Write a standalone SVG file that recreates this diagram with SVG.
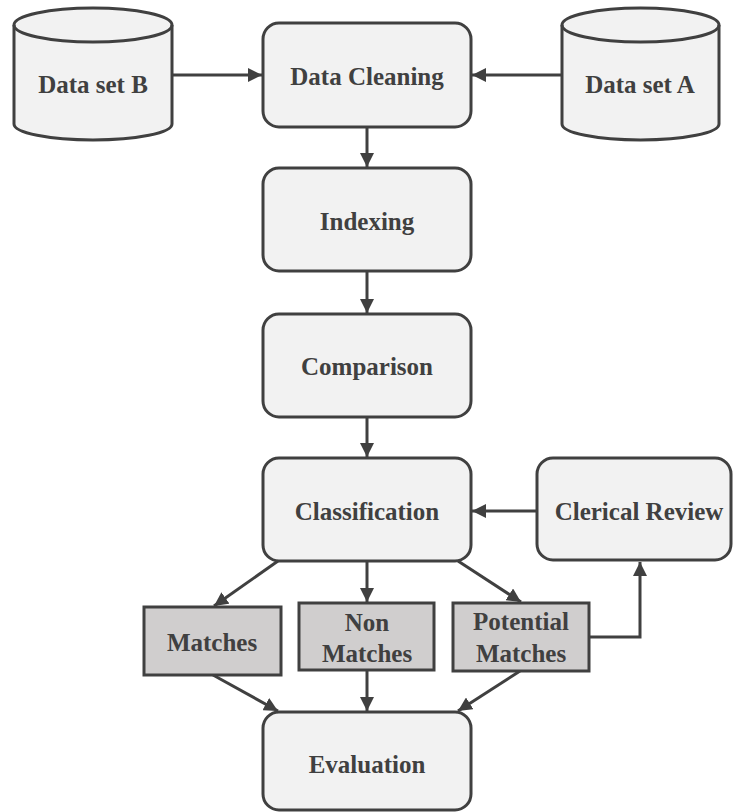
<svg xmlns="http://www.w3.org/2000/svg" width="733" height="812" viewBox="0 0 733 812">
<style>
.box{fill:#f2f2f2;stroke:#404040;stroke-width:3}
.rbox{fill:#d0cece;stroke:#404040;stroke-width:3}
.t{font-family:"Liberation Serif","Times New Roman",serif;font-weight:bold;font-size:25px;fill:#404040;text-anchor:middle}
.c{fill:none;stroke:#404040;stroke-width:3}
</style>
<defs>
<marker id="ah" viewBox="0 0 14 14" refX="14" refY="7" markerWidth="14" markerHeight="14" markerUnits="userSpaceOnUse" orient="auto">
<path d="M0,0 L14,7 L0,14 Z" fill="#404040"/>
</marker>
</defs>
<g id="connectors">
<path class="c" d="M172,75 L262,75" marker-end="url(#ah)"/>
<path class="c" d="M562,75 L472,75" marker-end="url(#ah)"/>
<path class="c" d="M367,127 L367,167" marker-end="url(#ah)"/>
<path class="c" d="M367,271 L367,313" marker-end="url(#ah)"/>
<path class="c" d="M367,417 L367,457" marker-end="url(#ah)"/>
<path class="c" d="M537,511 L472,511" marker-end="url(#ah)"/>
<path class="c" d="M278,561 L214,606" marker-end="url(#ah)"/>
<path class="c" d="M367,561 L367,602" marker-end="url(#ah)"/>
<path class="c" d="M458,561 L521,602" marker-end="url(#ah)"/>
<path class="c" d="M589,637 L640,637 L640,562" marker-end="url(#ah)"/>
<path class="c" d="M213,675 L278,711" marker-end="url(#ah)"/>
<path class="c" d="M367,670 L367,711" marker-end="url(#ah)"/>
<path class="c" d="M520,671 L458,711" marker-end="url(#ah)"/>
</g>
<g id="datasetB">
<path class="box" d="M14,25 A79,17 0 0 1 172,25 L172,124 A79,16 0 0 1 14,124 Z"/>
<path class="c" d="M14,25 A79,17 0 0 0 172,25"/>
<text class="t" x="93" y="93">Data set B</text>
</g>
<g id="datasetA">
<path class="box" d="M562,25 A78.5,17 0 0 1 719,25 L719,124 A78.5,16 0 0 1 562,124 Z"/>
<path class="c" d="M562,25 A78.5,17 0 0 0 719,25"/>
<text class="t" x="640" y="93">Data set A</text>
</g>
<g id="cleaning">
<rect class="box" x="263" y="23" width="208" height="104" rx="16"/>
<text class="t" x="367" y="85">Data Cleaning</text>
</g>
<g id="indexing">
<rect class="box" x="263" y="168" width="208" height="103" rx="16"/>
<text class="t" x="367" y="230">Indexing</text>
</g>
<g id="comparison">
<rect class="box" x="263" y="314" width="208" height="103" rx="16"/>
<text class="t" x="367" y="375">Comparison</text>
</g>
<g id="classification">
<rect class="box" x="263" y="458" width="208" height="103" rx="16"/>
<text class="t" x="367" y="520">Classification</text>
</g>
<g id="clerical">
<rect class="box" x="537" y="458" width="194" height="102" rx="16"/>
<text class="t" x="639" y="520">Clerical Review</text>
</g>
<g id="matches">
<rect class="rbox" x="144" y="607" width="137" height="68"/>
<text class="t" x="212" y="651">Matches</text>
</g>
<g id="nonmatches">
<rect class="rbox" x="299" y="603" width="135" height="67"/>
<text class="t" x="367" y="631">Non</text>
<text class="t" x="367" y="662">Matches</text>
</g>
<g id="potential">
<rect class="rbox" x="453" y="603" width="136" height="68"/>
<text class="t" x="521" y="630">Potential</text>
<text class="t" x="521" y="662">Matches</text>
</g>
<g id="evaluation">
<rect class="box" x="263" y="712" width="208" height="98" rx="16"/>
<text class="t" x="367" y="773">Evaluation</text>
</g>
</svg>
